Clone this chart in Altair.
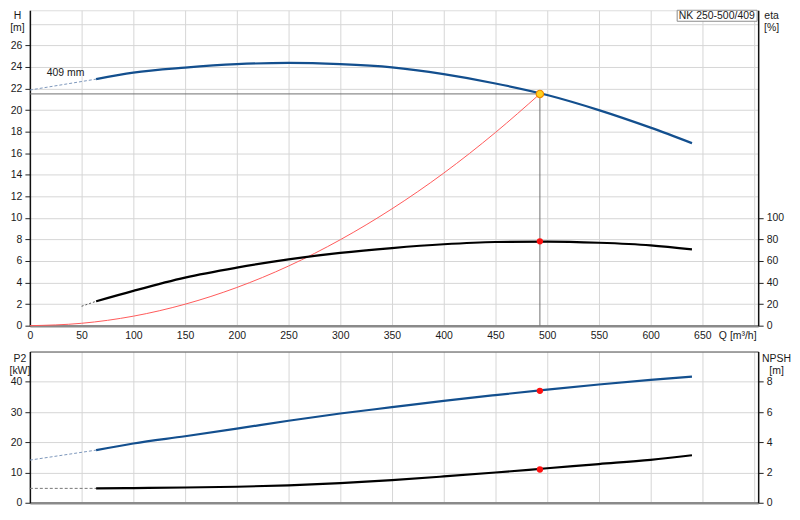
import altair as alt
import pandas as pd

# ---------------- data ----------------
# Head curve H [m] (solid part) and its dashed extension
h_q = [64, 100, 150, 200, 250, 300, 350, 400, 450, 500, 550, 600, 640]
h_val = [22.87, 23.48, 23.94, 24.26, 24.38, 24.26, 23.96, 23.33, 22.47, 21.4, 20.0, 18.37, 16.93]
h_ext_q = [0, 64]
h_ext_val = [21.86, 22.87]

# System curve
sys_q = [0, 50, 100, 150, 200, 250, 300, 350, 400, 450, 493]
sys_h = [0, 0.22, 0.88, 1.99, 3.54, 5.53, 7.97, 10.84, 14.15, 17.92, 21.5]

# Efficiency eta [%]
eta_q = [64, 100, 150, 200, 250, 300, 350, 400, 450, 500, 550, 600, 640]
eta_val = [22.6, 32.3, 44.6, 53.8, 61.5, 67.5, 72.0, 75.5, 77.6, 78.0, 76.9, 74.5, 70.8]
eta_ext_q = [50, 64]
eta_ext_val = [18.0, 22.6]

# Power P2 [kW]
p2_q = [64, 100, 150, 200, 250, 300, 350, 400, 450, 500, 550, 600, 640]
p2_val = [17.4, 19.6, 22.0, 24.5, 27.1, 29.5, 31.6, 33.7, 35.6, 37.4, 39.1, 40.6, 41.7]
p2_ext_q = [0, 64]
p2_ext_val = [14.1, 17.4]

# NPSH [m]
npsh_q = [64, 100, 150, 200, 250, 300, 350, 400, 450, 500, 550, 600, 640]
npsh_val = [0.95, 0.97, 1.01, 1.06, 1.15, 1.3, 1.5, 1.74, 2.0, 2.28, 2.56, 2.84, 3.14]
npsh_ext_q = [0, 64]
npsh_ext_val = [0.95, 0.95]

# Duty point
duty_q = 493
duty_h = 21.5
duty_eta = 78.2
duty_p2 = 37.0
duty_npsh = 2.2

# Annotations
diam_label = "409 mm"
diam_q, diam_h = 16.3, 23.44
pump_label = "NK 250-500/409"
box_q, box_q2, box_h, box_h2 = 625.7, 703, 28.24, 29.26
pump_q, pump_h = 664, 28.75

x_ticks = list(range(0, 701, 50))
h_ticks = list(range(0, 29, 2))
eta_ticks = [0, 20, 40, 60, 80, 100]
p2_ticks = [0, 10, 20, 30, 40, 50]
npsh_ticks = [0, 2, 4, 6, 8]

# ---------------- style ----------------
FONT = "Liberation Sans"
FS = 10.5
TXT = "#1a1a1a"
GRID = "#d6d6d6"
BLUE = "#134f8e"

common = dict(labelFont=FONT, labelFontSize=FS, labelColor=TXT, titleFont=FONT,
              titleFontSize=FS, titleColor=TXT, titleFontWeight="normal")

xscale = alt.Scale(domain=[0, 704], nice=False, zero=False)
hscale = alt.Scale(domain=[0, 29.26], nice=False)
etascale = alt.Scale(domain=[0, 292.6], nice=False)
p2scale = alt.Scale(domain=[0, 50], nice=False)
npshscale = alt.Scale(domain=[0, 10], nice=False)

ax_x_top = alt.Axis(values=x_ticks, labelExpr="datum.value > 675 ? '' : datum.label",
                    grid=True, gridColor=GRID, gridWidth=1, ticks=False,
                    domainColor="#8a8a8a", domainWidth=2.5, labelPadding=5,
                    labelFlush=False, labelOverlap=False,
                    title="Q [m³/h]", titleAngle=0, titleAlign="left", titleBaseline="top",
                    titleX=692, titleY=5, **common)
ax_x_bot = alt.Axis(values=x_ticks, labels=False, ticks=False, title=None,
                    grid=True, gridColor=GRID, gridWidth=1,
                    domainColor="#8a8a8a", domainWidth=2.5)

ax_h = alt.Axis(values=h_ticks, labelExpr="datum.value > 27 ? '' : datum.label",
                tickColor={"condition": {"test": "datum.value > 27", "value": "transparent"}, "value": "#222222"},
                tickSize=5, grid=True, gridColor=GRID, gridWidth=1,
                domainColor="#111111", domainWidth=1.5, labelPadding=3,
                title=["H", "[m]"], titleAngle=0, titleAlign="center", titleBaseline="top",
                titleX=-13, titleY=0, titleLineHeight=12, **common)
ax_eta = alt.Axis(orient="right", values=eta_ticks, grid=False, tickSize=5, tickColor="#222222",
                  domainColor="#111111", domainWidth=1.5, labelPadding=3,
                  title=["eta", "[%]"], titleAngle=0, titleAlign="center", titleBaseline="top",
                  titleX=13, titleY=0, titleLineHeight=12, **common)
ax_p2 = alt.Axis(values=p2_ticks, labelExpr="datum.value > 45 ? '' : datum.label",
                 tickColor={"condition": {"test": "datum.value > 45", "value": "transparent"}, "value": "#222222"},
                 gridColor={"condition": {"test": "datum.value > 45", "value": "#555555"}, "value": GRID},
                 tickSize=5, grid=True, gridWidth=1,
                 domainColor="#111111", domainWidth=1.5, labelPadding=3,
                 title=["P2", "[kW]"], titleAngle=0, titleAlign="center", titleBaseline="top",
                 titleX=-10.5, titleY=2, titleLineHeight=12, **common)
ax_npsh = alt.Axis(orient="right", values=npsh_ticks, grid=False, tickSize=5, tickColor="#222222",
                   domainColor="#111111", domainWidth=1.5, labelPadding=3,
                   title=["NPSH", "[m]"], titleAngle=0, titleAlign="center", titleBaseline="top",
                   titleX=18, titleY=2, titleLineHeight=12, **common)


def XT(f="q"):
    return alt.X(f"{f}:Q", scale=xscale, axis=ax_x_top)


def XB(f="q"):
    return alt.X(f"{f}:Q", scale=xscale, axis=ax_x_bot)


def line(df, color, width, dash=None):
    kw = dict(color=color, strokeWidth=width, interpolate="monotone")
    if dash:
        kw["strokeDash"] = dash
    return alt.Chart(df).mark_line(**kw)


# ---------------- top panel ----------------
df_h = pd.DataFrame({"q": h_q, "v": h_val})
df_h_ext = pd.DataFrame({"q": h_ext_q, "v": h_ext_val})
df_sys = pd.DataFrame({"q": sys_q, "v": sys_h})
df_eta = pd.DataFrame({"q": eta_q, "v": eta_val})
df_eta_ext = pd.DataFrame({"q": eta_ext_q, "v": eta_ext_val})

YH = alt.Y("v:Q", scale=hscale, axis=ax_h)
YE = alt.Y("v:Q", scale=etascale, axis=ax_eta)

hline = alt.Chart(pd.DataFrame({"q": [0], "q2": [duty_q], "v": [duty_h]})).mark_rule(
    color="#707070", strokeWidth=1).encode(x=XT(), x2="q2:Q", y=YH)
vline = alt.Chart(pd.DataFrame({"q": [duty_q], "v": [0], "v2": [duty_h]})).mark_rule(
    color="#707070", strokeWidth=1).encode(x=XT(), y=YH, y2="v2:Q")
h_ext = line(df_h_ext, "#7d97bb", 1, [3, 2]).encode(x=XT(), y=YH)
h_sol = line(df_h, BLUE, 2.2).encode(x=XT(), y=YH)
sys_l = line(df_sys, "#ff5a5a", 1).encode(x=XT(), y=YH)
duty_pt = alt.Chart(pd.DataFrame({"q": [duty_q], "v": [duty_h]})).mark_point(
    shape="circle", filled=True, size=55, fill="#ffd21f", stroke="#f08c00", strokeWidth=1.2, opacity=1
).encode(x=XT(), y=YH)
diam = alt.Chart(pd.DataFrame({"q": [diam_q], "v": [diam_h], "t": [diam_label]})).mark_text(
    align="left", baseline="middle", font=FONT, fontSize=FS, color=TXT).encode(x=XT(), y=YH, text="t:N")
box = alt.Chart(pd.DataFrame({"q": [box_q], "q2": [box_q2], "v": [box_h], "v2": [box_h2]})).mark_rect(
    fill="white", stroke="#8c8c8c", strokeWidth=1).encode(x=XT(), x2="q2:Q", y=YH, y2="v2:Q")
pump = alt.Chart(pd.DataFrame({"q": [pump_q], "v": [pump_h], "t": [pump_label]})).mark_text(
    align="center", baseline="middle", font=FONT, fontSize=FS, color=TXT).encode(x=XT(), y=YH, text="t:N")

eta_ext = line(df_eta_ext, "#555555", 1, [2, 2]).encode(x=XT(), y=YE)
eta_sol = line(df_eta, "#000000", 2.2).encode(x=XT(), y=YE)
eta_pt = alt.Chart(pd.DataFrame({"q": [duty_q], "v": [duty_eta]})).mark_circle(
    color="#ff1010", size=40, opacity=1).encode(x=XT(), y=YE)

left_top = alt.layer(hline, vline, h_ext, h_sol, sys_l, duty_pt, diam, box, pump)
right_top = alt.layer(eta_ext, eta_sol, eta_pt)
top = alt.layer(left_top, right_top).resolve_scale(y="independent").properties(width=732, height=317)

# ---------------- bottom panel ----------------
df_p2 = pd.DataFrame({"q": p2_q, "v": p2_val})
df_p2_ext = pd.DataFrame({"q": p2_ext_q, "v": p2_ext_val})
df_np = pd.DataFrame({"q": npsh_q, "v": npsh_val})
df_np_ext = pd.DataFrame({"q": npsh_ext_q, "v": npsh_ext_val})

YP = alt.Y("v:Q", scale=p2scale, axis=ax_p2)
YN = alt.Y("v:Q", scale=npshscale, axis=ax_npsh)

p2_ext = line(df_p2_ext, "#7d97bb", 1, [3, 2]).encode(x=XB(), y=YP)
p2_sol = line(df_p2, BLUE, 2.2).encode(x=XB(), y=YP)
p2_pt = alt.Chart(pd.DataFrame({"q": [duty_q], "v": [duty_p2]})).mark_circle(
    color="#ff1010", size=40, opacity=1).encode(x=XB(), y=YP)
np_ext = line(df_np_ext, "#777777", 1, [3, 2]).encode(x=XB(), y=YN)
np_sol = line(df_np, "#000000", 2.2).encode(x=XB(), y=YN)
np_pt = alt.Chart(pd.DataFrame({"q": [duty_q], "v": [duty_npsh]})).mark_circle(
    color="#ff1010", size=40, opacity=1).encode(x=XB(), y=YN)

left_bot = alt.layer(p2_ext, p2_sol, p2_pt)
right_bot = alt.layer(np_ext, np_sol, np_pt)
bottom = alt.layer(left_bot, right_bot).resolve_scale(y="independent").properties(width=732, height=152)

chart = alt.vconcat(top, bottom, spacing=26, bounds="flush", padding=0).configure_view(
    stroke=None).configure(background="white")

chart.save("out.html", embed_options={"renderer": "svg", "actions": False})
